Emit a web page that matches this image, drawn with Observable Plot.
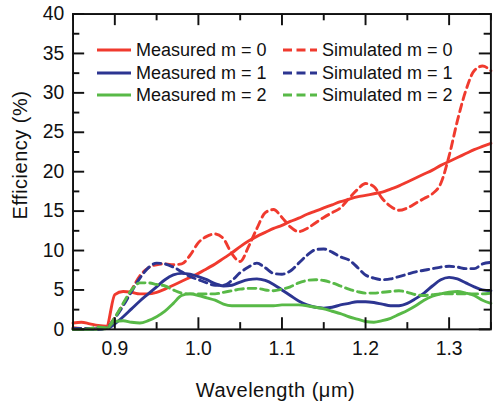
<!DOCTYPE html>
<html>
<head>
<meta charset="utf-8">
<script src="https://cdn.jsdelivr.net/npm/d3@7"></script>
<script src="https://cdn.jsdelivr.net/npm/@observablehq/plot@0.6"></script>
<style>
  html, body { margin: 0; padding: 0; background: #fff; overflow: hidden; }
  #wrap { position: relative; width: 503px; height: 406px; overflow: hidden; font-family: "Liberation Sans", Arial, sans-serif; color: #111; }
  #wrap svg { position: absolute; left: 0; top: 0; }
  .ttl { position: absolute; font-size: 20px; line-height: 20px; text-align: center; white-space: nowrap; letter-spacing: 0.5px; }
  .leg { position: absolute; font-size: 18px; line-height: 20px; white-space: nowrap; }
  .sw { position: absolute; }
</style>
</head>
<body>
<div id="wrap"></div>
<script>
// ---- data ----
const wavelength = [0.85,0.86,0.87,0.88,0.89,0.90,0.91,0.92,0.93,0.94,0.95,0.96,0.97,0.98,0.99,1.00,1.01,1.02,1.03,1.04,1.05,1.06,1.07,1.08,1.09,1.10,1.11,1.12,1.13,1.14,1.15,1.16,1.17,1.18,1.19,1.20,1.21,1.22,1.23,1.24,1.25,1.26,1.27,1.28,1.29,1.30,1.31,1.32,1.33,1.34,1.35];

const measuredM0 = [0.8,0.9,0.7,0.5,0.4,4.4,4.8,4.7,4.5,4.5,4.7,5.1,5.6,6.1,6.6,7.1,7.7,8.3,9.0,9.7,10.5,11.2,11.8,12.3,12.8,13.2,13.7,14.1,14.6,15.0,15.4,15.8,16.2,16.5,16.8,17.0,17.2,17.4,17.8,18.2,18.7,19.2,19.7,20.2,20.8,21.3,21.8,22.3,22.8,23.2,23.6];
const measuredM1 = [0.0,0.0,0.0,0.1,0.1,0.7,1.6,2.6,3.6,4.5,5.4,6.3,6.9,7.1,7.0,6.7,6.3,5.8,5.5,5.6,6.0,6.3,6.4,6.2,5.7,5.0,4.3,3.6,3.1,2.8,2.7,2.8,3.1,3.3,3.5,3.5,3.4,3.2,3.0,3.0,3.3,3.9,4.6,5.5,6.3,6.6,6.4,5.9,5.4,5.0,4.9];
const measuredM2 = [0.0,0.0,0.0,0.0,0.1,1.0,1.1,0.9,0.8,1.1,1.6,2.3,3.3,4.3,4.5,4.3,4.0,3.7,3.2,3.0,3.0,3.0,3.0,3.0,3.0,3.1,3.1,3.1,3.0,2.8,2.6,2.3,2.0,1.6,1.3,1.0,0.9,1.1,1.4,1.9,2.4,3.0,3.7,4.2,4.5,4.7,4.8,4.6,4.3,3.7,3.3];
const simulatedM0 = [0.2,0.1,0.1,0.1,0.2,1.5,3.2,5.0,6.8,7.8,8.2,8.3,8.2,8.3,9.4,11.0,11.8,12.1,11.5,9.6,8.6,10.5,12.8,14.8,15.2,14.2,13.0,12.4,12.8,13.5,14.2,14.8,15.4,16.6,17.7,18.5,18.1,16.6,15.6,15.1,15.4,16.0,16.6,17.2,18.5,22.0,26.5,30.3,32.8,33.4,32.8];
const simulatedM1 = [0.1,0.1,0.1,0.0,0.2,1.4,3.0,4.8,6.5,7.8,8.4,8.3,7.9,7.3,6.7,6.3,5.9,5.6,5.6,6.2,7.2,7.9,8.4,7.8,7.1,7.0,7.4,8.4,9.4,10.1,10.2,9.8,9.2,8.8,7.9,6.9,6.5,6.3,6.4,6.7,7.0,7.3,7.5,7.7,7.9,8.0,7.9,7.7,7.7,8.3,8.5];
const simulatedM2 = [0.0,0.0,0.1,0.3,0.2,1.5,3.3,5.0,5.9,5.9,5.7,5.5,5.0,4.6,4.5,4.5,4.5,4.5,4.7,4.9,5.1,5.2,5.2,5.0,4.9,5.1,5.4,5.9,6.2,6.3,6.2,5.9,5.5,5.1,4.8,4.6,4.6,4.7,4.8,4.9,4.7,4.4,4.3,4.4,4.5,4.5,4.5,4.5,4.5,4.5,4.6];

const seriesNames = ["Measured m = 0","Measured m = 1","Measured m = 2","Simulated m = 0","Simulated m = 1","Simulated m = 2"];
const seriesValues = [measuredM0, measuredM1, measuredM2, simulatedM0, simulatedM1, simulatedM2];

const xMajorTicks = [0.9, 1.0, 1.1, 1.2, 1.3];
const xMinorTicks = [0.85, 0.95, 1.05, 1.15, 1.25, 1.35];
const yMajorTicks = [0, 5, 10, 15, 20, 25, 30, 35, 40];
const yMinorTicks = [2.5, 7.5, 12.5, 17.5, 22.5, 27.5, 32.5, 37.5];

// ---- styles ----
const colors = ["#f03a2e", "#2c3591", "#58b947", "#f03a2e", "#2c3591", "#58b947"];
const dashes = [null, null, null, "8,5", "8,5", "8,5"];
const legendDashes = [null, null, null, "9,4.5", "9,4.5", "9,4.5"];

const mL = 75, mR = 13, mT = 14, mB = 66, W = 520, H = 406;
const frameW = W - mL - mR, frameH = H - mT - mB;
const majorLen = 12, minorLen = 7;

const lineMarks = seriesValues.map((vals, i) => {
  const rows = wavelength.map((w, j) => ({w, v: vals[j]}));
  return Plot.line(rows, {x: "w", y: "v", stroke: colors[i], strokeWidth: 3,
    strokeDasharray: dashes[i] || undefined, curve: "monotone-x"});
});

const plot = Plot.plot({
  width: W, height: H,
  marginLeft: mL, marginRight: mR, marginTop: mT, marginBottom: mB,
  x: {domain: [0.85, 1.35]},
  y: {domain: [0, 40]},
  style: {fontFamily: "'Liberation Sans', Arial, sans-serif", fontSize: "20px", background: "white", color: "#111"},
  marks: [
    ...lineMarks,
    // inward ticks
    Plot.tickX(xMajorTicks, {x: d => d, insetTop: frameH - majorLen, stroke: "#111", strokeWidth: 2}),
    Plot.tickX(xMajorTicks, {x: d => d, insetBottom: frameH - majorLen, stroke: "#111", strokeWidth: 2}),
    Plot.tickX(xMinorTicks, {x: d => d, insetTop: frameH - minorLen, stroke: "#111", strokeWidth: 2}),
    Plot.tickX(xMinorTicks, {x: d => d, insetBottom: frameH - minorLen, stroke: "#111", strokeWidth: 2}),
    Plot.tickY(yMajorTicks, {y: d => d, insetRight: frameW - majorLen, stroke: "#111", strokeWidth: 2}),
    Plot.tickY(yMajorTicks, {y: d => d, insetLeft: frameW - majorLen, stroke: "#111", strokeWidth: 2}),
    Plot.tickY(yMinorTicks, {y: d => d, insetRight: frameW - minorLen, stroke: "#111", strokeWidth: 2}),
    Plot.tickY(yMinorTicks, {y: d => d, insetLeft: frameW - minorLen, stroke: "#111", strokeWidth: 2}),
    Plot.axisX({ticks: xMajorTicks, tickSize: 0, tickPadding: 12, tickFormat: d3.format(".1f"), label: null}),
    Plot.axisY({ticks: yMajorTicks, tickSize: 0, tickPadding: 9, tickFormat: d3.format("d"), label: null}),
    Plot.frame({stroke: "#111", strokeWidth: 2})
  ]
});

const wrap = document.getElementById("wrap");
wrap.appendChild(plot);

// axis titles
const xt = document.createElement("div");
xt.className = "ttl";
xt.textContent = "Wavelength (μm)";
xt.style.left = "125.5px"; xt.style.width = "300px"; xt.style.top = "380px";
wrap.appendChild(xt);

const yt = document.createElement("div");
yt.className = "ttl";
yt.textContent = "Efficiency (%)";
yt.style.left = "-79.9px"; yt.style.width = "200px"; yt.style.top = "144.5px";
yt.style.transform = "rotate(-90deg)";
wrap.appendChild(yt);

// legend (inside the plot)
const legCols = [{lx: 97, tx: 136}, {lx: 283, tx: 322}];
const legRows = [50, 72.5, 95];
seriesNames.forEach((name, i) => {
  const col = legCols[Math.floor(i / 3)], ry = legRows[i % 3];
  const s = document.createElementNS("http://www.w3.org/2000/svg", "svg");
  s.setAttribute("class", "sw");
  s.setAttribute("width", 36); s.setAttribute("height", 8);
  s.style.left = col.lx + "px"; s.style.top = (ry - 4) + "px";
  const l = document.createElementNS("http://www.w3.org/2000/svg", "line");
  l.setAttribute("x1", 0); l.setAttribute("x2", 34); l.setAttribute("y1", 4); l.setAttribute("y2", 4);
  l.setAttribute("stroke", colors[i]); l.setAttribute("stroke-width", 3);
  if (legendDashes[i]) l.setAttribute("stroke-dasharray", legendDashes[i]);
  s.appendChild(l);
  wrap.appendChild(s);
  const t = document.createElement("div");
  t.className = "leg";
  t.textContent = name;
  t.style.left = col.tx + "px"; t.style.top = (ry - 9.7) + "px";
  wrap.appendChild(t);
});
</script>
</body>
</html>
